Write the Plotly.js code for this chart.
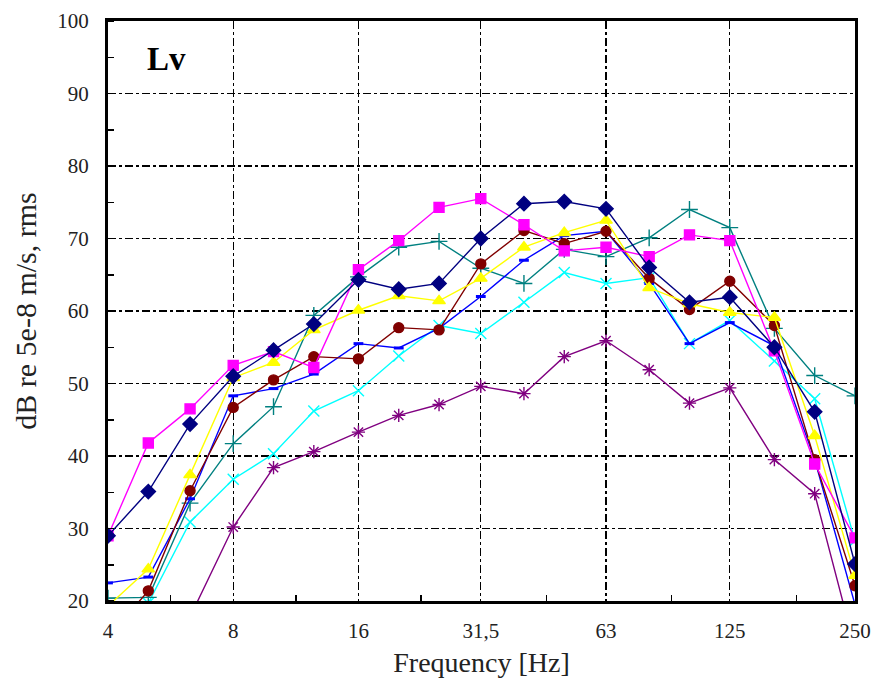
<!DOCTYPE html>
<html>
<head>
<meta charset="utf-8">
<script src="https://cdn.plot.ly/plotly-3.0.1.min.js"></script>
<style>html,body{margin:0;padding:0;background:#fff;}#chart{width:875px;height:693px;}</style>
</head>
<body>
<div id="chart"></div>
<script>
const freqs = [4, 5, 6.3, 8, 10, 12.5, 16, 20, 25, 31.5, 40, 50, 63, 80, 100, 125, 160, 200, 250];
const tickVals = [4, 8, 16, 31.5, 63, 125, 250];
const tickText = ["4", "8", "16", "31,5", "63", "125", "250"];

const navyDiamond = [29.0, 35.1, 44.4, 51.0, 54.6, 58.2, 64.3, 63.0, 63.8, 70.0, 74.8, 75.1, 74.1, 66.0, 61.2, 61.9, 55.0, 46.1, 25.1];
const magentaSquare = [29.0, 41.8, 46.5, 52.5, 54.4, 52.2, 65.7, 69.7, 74.3, 75.5, 71.9, 68.3, 68.8, 67.5, 70.5, 69.7, 54.5, 38.9, 28.7];
const yellowTriangle = [19.3, 24.4, 37.4, 50.8, 52.9, 57.4, 60.1, 62.1, 61.4, 64.5, 68.8, 70.8, 72.5, 63.2, 61.0, 59.8, 59.1, 42.8, 23.5];
const cyanX = [17.0, 19.7, 30.9, 36.8, 40.3, 46.2, 49.0, 53.8, 58.0, 56.9, 61.2, 65.3, 63.8, 64.6, 55.5, 58.7, 53.1, 47.9, 28.3];
const purpleStar = [null, null, 17.8, 30.2, 38.4, 40.6, 43.3, 45.6, 47.1, 49.6, 48.6, 53.7, 55.9, 51.9, 47.3, 49.4, 39.5, 34.8, 13.5];
const maroonCircle = [15.0, 21.4, 35.2, 46.7, 50.5, 53.7, 53.4, 57.7, 57.4, 66.5, 71.1, 69.3, 71.0, 64.5, 60.2, 64.1, 58.0, 39.5, 22.1];
const tealPlus = [20.4, 20.5, 33.5, 41.7, 46.8, 59.4, 64.7, 68.8, 69.6, 65.9, 63.8, 68.5, 67.5, 70.1, 74.0, 71.5, 57.6, 51.1, 48.3];
const blueDash = [22.5, 23.3, 34.1, 48.3, 49.3, 51.3, 55.5, 54.9, 57.6, 62.0, 67.0, 70.4, 71.0, 63.8, 55.5, 58.4, 55.2, 39.5, 19.5];

function tr(y, color, symbol, size) {
  return {
    x: freqs, y: y, type: 'scatter', mode: 'lines+markers',
    line: {color: color, width: 1.4},
    marker: {color: color, symbol: symbol, size: size, line: {color: color, width: 1.4}},
    showlegend: false
  };
}

const data = [
  tr(purpleStar, '#800080', 'asterisk-open', 11),
  tr(cyanX, '#00FFFF', 'x-thin-open', 11),
  tr(tealPlus, '#008080', 'cross-thin-open', 12),
  tr(blueDash, '#0000FF', 'line-ew-open', 7),
  tr(maroonCircle, '#800000', 'circle', 10),
  tr(yellowTriangle, '#FFFF00', 'triangle-up', 11),
  tr(magentaSquare, '#FF00FF', 'square', 10),
  tr(navyDiamond, '#000080', 'diamond', 11)
];
data[3].marker.line.width = 3;

const serif = '"Liberation Serif", "Times New Roman", serif';
const layout = {
  width: 875, height: 693,
  margin: {l: 108, r: 20, t: 21, b: 92},
  paper_bgcolor: '#fff', plot_bgcolor: '#fff',
  font: {family: serif, color: '#000', size: 21},
  xaxis: {
    type: 'log', range: [Math.log10(4), Math.log10(250)],
    tickvals: tickVals, ticktext: tickText,
    showgrid: true, gridcolor: '#000', gridwidth: 1.4, griddash: '8px,3px,3px,3px',
    showline: true, linecolor: '#000', linewidth: 3, mirror: true,
    ticks: '', ticklen: 0, ticklabelstandoff: 9,
    minor: {tickvals: [5.66, 11.31, 22.6, 45.3, 90.5, 181], ticks: 'inside', ticklen: 6, tickcolor: '#000', tickwidth: 1.5, showgrid: false},
    tickfont: {size: 21, color: '#222'}, zeroline: false,
    title: {text: 'Frequency [Hz]', font: {size: 28, color: '#222'}, standoff: 11}
  },
  yaxis: {
    range: [20, 100], tickvals: [20, 30, 40, 50, 60, 70, 80, 90, 100],
    showgrid: true, gridcolor: '#000', gridwidth: 1.4, griddash: '8px,3px,3px,3px',
    showline: true, linecolor: '#000', linewidth: 3, mirror: true,
    ticks: '', ticklen: 0, ticklabelstandoff: 12,
    minor: {dtick: 5, ticks: 'inside', ticklen: 6, tickcolor: '#000', tickwidth: 1.5, showgrid: false},
    tickfont: {size: 21, color: '#222'}, zeroline: false,
    title: {text: 'dB re 5e-8 m/s, rms', font: {size: 30, color: '#222'}, standoff: 12}
  },
  annotations: [{
    text: '<b>Lv</b>', xref: 'paper', yref: 'paper', x: 0.078, y: 0.935,
    xanchor: 'center', yanchor: 'middle', showarrow: false,
    font: {size: 33, family: serif, color: '#000'}
  }]
};

Plotly.newPlot('chart', data, layout, {displayModeBar: false, staticPlot: true});
</script>
</body>
</html>
